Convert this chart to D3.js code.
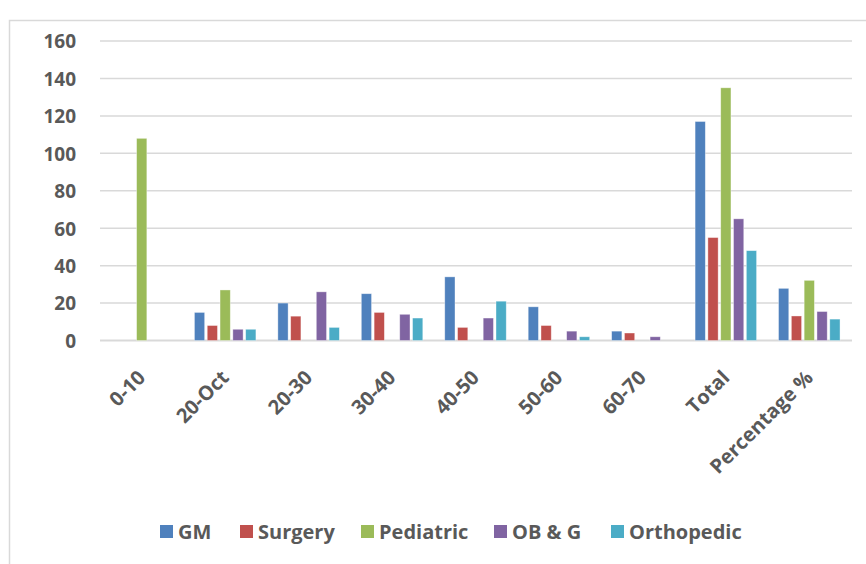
<!DOCTYPE html>
<html>
<head>
<meta charset="utf-8">
<script src="https://cdn.jsdelivr.net/npm/d3@7"></script>
<style>
  body { margin: 0; background: #fff; }
  text { font-family: "Open Sans", "DejaVu Sans", sans-serif; font-weight: bold; fill: #595959; }
</style>
</head>
<body>
<div id="chart"></div>
<script>
// categories and series
var categories = ["0-10", "20-Oct", "20-30", "30-40", "40-50", "50-60", "60-70", "Total", "Percentage %"];
var seriesNames = ["GM", "Surgery", "Pediatric", "OB & G", "Orthopedic"];
var gm         = [0, 15, 20, 25, 34, 18, 5, 117, 27.86];
var surgery    = [0, 8, 13, 15, 7, 8, 4, 55, 13.10];
var pediatric  = [108, 27, 0, 0, 0, 0, 0, 135, 32.14];
var obg        = [0, 6, 26, 14, 12, 5, 2, 65, 15.48];
var orthopedic = [0, 6, 7, 12, 21, 2, 0, 48, 11.43];
var yTicks = [0, 20, 40, 60, 80, 100, 120, 140, 160];

var colors = ["#4F81BD", "#C0504D", "#9BBB59", "#8064A2", "#4BACC6"];
var seriesValues = [gm, surgery, pediatric, obg, orthopedic];

var svgWidth = 866;
var svgHeight = 564;

var svg = d3.select("#chart")
  .append("svg")
  .attr("width", svgWidth)
  .attr("height", svgHeight);

// chart frame (right and bottom edges fall outside the picture)
svg.append("rect")
  .attr("x", 9.5)
  .attr("y", 20.5)
  .attr("width", 900)
  .attr("height", 600)
  .attr("fill", "none")
  .attr("stroke", "#d9d9d9")
  .attr("stroke-width", 1.5);

// scales
var x0 = d3.scaleBand()
  .domain(categories)
  .range([100, 851])
  .paddingInner(0.263)
  .paddingOuter(0.1315);

var x1 = d3.scaleBand()
  .domain(seriesNames)
  .range([0, x0.bandwidth()])
  .paddingInner(0.2);

var y = d3.scaleLinear()
  .domain([0, 160])
  .range([340.5, 41]);

// gridlines
svg.append("g")
  .selectAll("line")
  .data(yTicks)
  .enter()
  .append("line")
  .attr("x1", 100)
  .attr("x2", 852)
  .attr("y1", d => y(d))
  .attr("y2", d => y(d))
  .attr("stroke", "#d9d9d9")
  .attr("stroke-width", d => d === 0 ? 2 : 1.5);

// y axis labels
var yAxis = svg.append("g")
  .attr("transform", "translate(76,0)")
  .call(d3.axisLeft(y).tickValues(yTicks).tickSize(0).tickPadding(0));
yAxis.select(".domain").remove();
yAxis.selectAll("text")
  .attr("font-size", 19)
  .attr("font-family", null)
  .attr("fill", null)
  .attr("dy", "0.36em");

// bars
var rows = categories.map(function(c, i) {
  return { cat: c, vals: seriesNames.map(function(s, j) { return { name: s, value: seriesValues[j][i], color: colors[j] }; }) };
});

var groups = svg.append("g")
  .selectAll("g")
  .data(rows)
  .enter()
  .append("g")
  .attr("transform", d => `translate(${x0(d.cat)},0)`);

groups.selectAll("rect")
  .data(d => d.vals.filter(v => v.value > 0))
  .enter()
  .append("rect")
  .attr("x", d => x1(d.name))
  .attr("y", d => y(d.value))
  .attr("width", x1.bandwidth())
  .attr("height", d => y(0) - y(d.value))
  .attr("fill", d => d.color)
  .attr("stroke", "#ffffff")
  .attr("stroke-opacity", 0.5)
  .attr("stroke-width", 0.75);

// x axis labels, rotated
var xAxis = svg.append("g")
  .attr("transform", "translate(0,366)")
  .call(d3.axisBottom(x0).tickSize(0).tickPadding(0));
xAxis.select(".domain").remove();
xAxis.selectAll("text")
  .attr("font-size", 20)
  .attr("font-family", null)
  .attr("fill", null)
  .attr("text-anchor", "end")
  .attr("dy", "0.7em")
  .attr("transform", "translate(-5,3) rotate(-45)");

// legend
var legendX = [160, 240, 361, 494, 611];
var legend = svg.append("g")
  .selectAll("g")
  .data(seriesNames)
  .enter()
  .append("g")
  .attr("transform", (d, i) => `translate(${legendX[i]},525)`);

legend.append("rect")
  .attr("width", 13)
  .attr("height", 13)
  .attr("fill", (d, i) => colors[i]);

legend.append("text")
  .attr("x", 18)
  .attr("y", 6.5)
  .attr("dy", "0.36em")
  .attr("font-size", 20)
  .text(d => d);
</script>
</body>
</html>
